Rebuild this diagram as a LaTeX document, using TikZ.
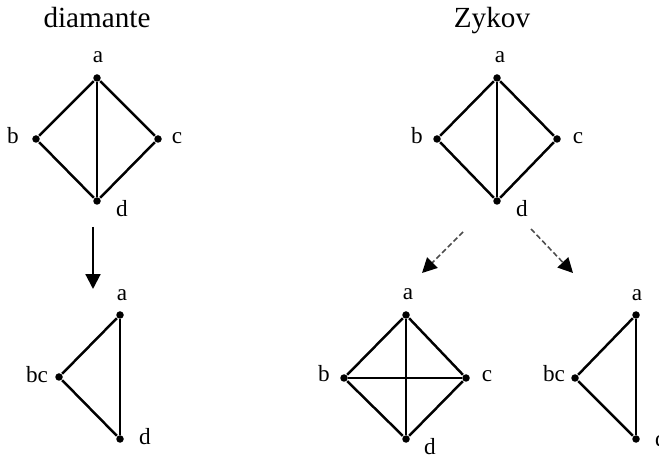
\documentclass[tikz,border=0pt]{standalone}
\usepackage{fontspec}
\setmainfont{Liberation Serif}
\usetikzlibrary{arrows.meta}

\begin{document}
\begin{tikzpicture}[x=0.01cm, y=-0.01cm,
        vertex/.style={circle, fill, inner sep=0pt, minimum size=0.075cm},
        lbl/.style={anchor=base, inner sep=0pt, font=\fontsize{6.6}{7}\selectfont},
        title/.style={anchor=base, inner sep=0pt, font=\fontsize{8.3}{10}\selectfont},
        edge line/.style={line width=0.7pt},
        reduce/.style={line width=0.6pt, -{Triangle[length=4.2pt, width=4.2pt]}},
        split/.style={line width=0.45pt, gray!60!black, dash pattern=on 1.5pt off 0.8pt,
            -{Triangle[length=4.2pt, width=4.2pt, color=black]}}]
        \clip (0,0) rectangle (659,456);

        % diamante
        \node[title] (t1) at (97,28) {diamante};
        \node[vertex] (da) at (97,78) {};
        \node[vertex] (db) at (36,139) {};
        \node[vertex] (dc) at (158,139) {};
        \node[vertex] (dd) at (97,201) {};
        \node[lbl] (dal) at (98,63) {a};
        \node[lbl] (dbl) at (13,144) {b};
        \node[lbl] (dcl) at (177,144) {c};
        \node[lbl] (ddl) at (122,217) {d};

        \path[edge line]
        (da) edge (db)
             edge (dc)
             edge (dd)
        (db) edge (dd)
        (dc) edge (dd);

        \coordinate (r1) at (93,227);
        \coordinate (r2) at (93,289);
        \draw[reduce] (r1) -- (r2);

        % contracted
        \node[vertex] (ta) at (120,315) {};
        \node[vertex] (tbc) at (59,377) {};
        \node[vertex] (td) at (120,439) {};
        \node[lbl] (tal) at (122,301) {a};
        \node[lbl] (tbcl) at (37,383) {bc};
        \node[lbl] (tdl) at (145,445) {d};

        \path[edge line]
        (ta) edge (tbc)
             edge (td)
        (tbc) edge (td);

        % Zykov
        \node[title] (t2) at (492,28) {Zykov};
        \node[vertex] (za) at (497,78) {};
        \node[vertex] (zb) at (437,139) {};
        \node[vertex] (zc) at (557,139) {};
        \node[vertex] (zd) at (497,201) {};
        \node[lbl] (zal) at (500,63) {a};
        \node[lbl] (zbl) at (417,144) {b};
        \node[lbl] (zcl) at (578,144) {c};
        \node[lbl] (zdl) at (522,217) {d};

        \path[edge line]
        (za) edge (zb)
             edge (zc)
             edge (zd)
        (zb) edge (zd)
        (zc) edge (zd);

        \coordinate (s1) at (463,232);
        \coordinate (s2) at (422,273);
        \coordinate (s3) at (531,229);
        \coordinate (s4) at (573,273);
        \draw[split] (s1) -- (s2);
        \draw[split] (s3) -- (s4);

        % b c joined
        \node[vertex] (ka) at (406,315) {};
        \node[vertex] (kb) at (344,378) {};
        \node[vertex] (kc) at (466,378) {};
        \node[vertex] (kd) at (406,439) {};
        \node[lbl] (kal) at (408,300) {a};
        \node[lbl] (kbl) at (324,382) {b};
        \node[lbl] (kcl) at (487,382) {c};
        \node[lbl] (kdl) at (430,454) {d};

        \path[edge line]
        (ka) edge (kb)
             edge (kc)
             edge (kd)
        (kb) edge (kc)
             edge (kd)
        (kc) edge (kd);

        % b c merged
        \node[vertex] (ma) at (636,315) {};
        \node[vertex] (mbc) at (575,378) {};
        \node[vertex] (md) at (636,439) {};
        \node[lbl] (mal) at (637,301) {a};
        \node[lbl] (mbcl) at (554,382) {bc};
        \node[lbl] (mdl) at (661,446) {d};

        \path[edge line]
        (ma) edge (mbc)
             edge (md)
        (mbc) edge (md);
\end{tikzpicture}
\end{document}
